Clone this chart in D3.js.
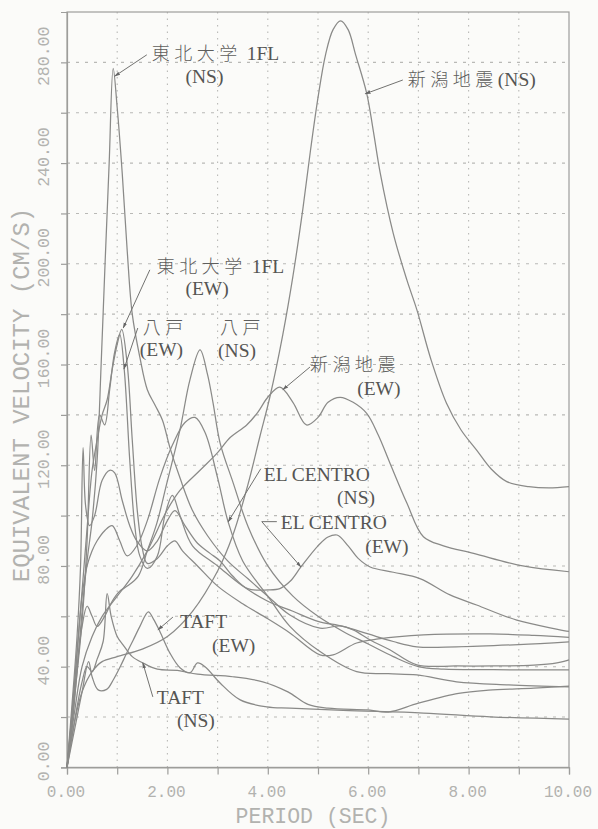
<!DOCTYPE html>
<html>
<head>
<meta charset="utf-8">
<script src="https://cdn.jsdelivr.net/npm/d3@7"></script>
<style>
  html, body { margin: 0; padding: 0; background: #fbfbf9; }
  svg { display: block; }
</style>
</head>
<body>
<svg id="chart" width="598" height="829"></svg>
<script>
// Equivalent velocity spectra, each point = [period (s), velocity (cm/s)]
const tohokuNS = [[0,0],[0.1,16],[0.2,38],[0.3,62],[0.4,82],[0.5,98],[0.6,122],[0.68,160],[0.76,201],[0.84,240],[0.92,277.6],[1.0,262],[1.1,236],[1.2,205],[1.3,180],[1.45,163],[1.6,150],[1.75,144],[1.9,138],[2.05,127],[2.25,115],[2.5,102],[2.8,92],[3.2,82],[3.6,75],[4.0,68],[4.44,60.5],[5.04,55.3],[5.44,56.2],[5.7,54.6],[6.04,50.6],[6.43,46.7],[6.97,40.7],[7.76,40.3],[8.5,40.3],[9.3,40.6],[9.76,41.5],[10,42.7]];
const tohokuEW = [[0,0],[0.1,20],[0.2,45],[0.3,70],[0.4,95],[0.5,118],[0.6,130],[0.7,140],[0.8,146],[0.9,158],[1.0,168],[1.09,174],[1.2,160],[1.3,130],[1.4,102],[1.5,87],[1.6,81],[1.8,83],[2.0,88],[2.15,90],[2.3,86],[2.6,80],[3.0,72],[3.5,65],[4.0,59],[4.44,53.4],[5.04,44.7],[5.3,44.7],[5.77,49.4],[6.2,51],[7.1,52.6],[8.43,53],[9.3,52.4],[10,51.6]];
const hachinoheEW = [[0,0],[0.15,28],[0.3,58],[0.4,90],[0.48,132],[0.55,118],[0.65,140],[0.75,136],[0.85,150],[0.95,165],[1.05,172],[1.14,158],[1.25,122],[1.35,96],[1.45,84],[1.6,79],[1.8,84],[1.95,100],[2.1,108],[2.25,100],[2.5,88],[3.0,80],[3.5,72],[4.0,66],[4.5,62],[5.0,58],[5.5,56],[6.0,53],[6.5,50],[6.97,47.9],[7.76,47.9],[9.0,48.8],[10,49.9]];
const hachinoheNS = [[0,0],[0.1,20],[0.2,40],[0.3,56],[0.4,64],[0.5,60],[0.6,56],[0.75,60],[0.9,66],[1.05,70],[1.2,72],[1.42,76],[1.6,86],[1.79,97],[1.99,113],[2.25,134],[2.45,154],[2.65,165.8],[2.8,156],[2.91,144.7],[3.05,128.8],[3.31,113],[3.61,95.5],[4.0,80],[4.5,68],[5.0,60],[5.5,54],[6.0,49],[6.5,44],[7.0,40],[7.5,39],[8.5,38.8],[10,38.7]];
const niigataNS = [[0,0],[0.15,18],[0.3,30],[0.5,38],[0.7,42],[1.0,44],[1.5,47],[2.0,52],[2.5,62],[3.0,78],[3.3,92],[3.6,112],[3.85,132],[4.04,147],[4.3,172],[4.5,195],[4.7,222],[4.85,245],[5.0,266],[5.15,283],[5.3,293],[5.45,296.5],[5.6,293],[5.75,283],[5.97,267.7],[6.1,253],[6.24,236],[6.5,212],[6.77,193.6],[6.97,181.7],[7.25,162],[7.56,144.6],[7.85,134],[8.16,126],[8.45,118.5],[8.76,113.5],[9.2,111.5],[9.6,111],[10,111.5]];
const niigataEW = [[0,0],[0.15,22],[0.3,40],[0.5,52],[0.7,60],[1.0,68],[1.3,76],[1.6,86],[1.99,102],[2.25,110],[2.65,118],[3.0,125],[3.25,131],[3.58,136],[3.8,141],[4.0,147],[4.24,151],[4.5,145],[4.77,136],[5.0,139],[5.2,145],[5.44,147],[5.7,145],[5.97,140.6],[6.2,132],[6.43,121],[6.77,105],[7.1,91.6],[7.5,88],[8.1,85],[9.08,80],[10,77.7]];
const elcentroNS = [[0,0],[0.1,22],[0.2,46],[0.3,68],[0.4,80],[0.5,86],[0.6,90],[0.75,94],[0.9,96],[1.05,90],[1.2,84],[1.39,88],[1.6,98],[1.85,115],[2.1,128],[2.35,137],[2.55,139],[2.75,133],[3.0,115],[3.21,97.5],[3.5,82],[4.0,68],[4.44,56],[5.04,46],[5.77,38],[6.4,37.2],[6.97,36.7],[7.76,34],[8.8,32.8],[10,32]];
const elcentroEW = [[0,0],[0.1,25],[0.2,52],[0.27,80],[0.32,127],[0.37,104],[0.45,96],[0.55,100],[0.7,114],[0.85,118],[0.95,117],[1.1,106],[1.25,96],[1.39,90],[1.6,86],[1.8,90],[2.0,98],[2.15,102],[2.35,96],[2.6,89],[2.85,85],[3.05,82],[3.3,76],[3.6,71],[4.0,70.5],[4.24,71],[4.45,74],[4.66,79.6],[5.0,88],[5.2,91.5],[5.38,92.3],[5.6,88],[5.8,83],[6.04,79.6],[6.5,77.5],[7.03,75],[7.63,68.5],[8.16,64.5],[8.96,58.5],[10,54]];
const taftEW = [[0,0],[0.1,10],[0.2,20],[0.3,30],[0.43,42],[0.5,36],[0.62,30.8],[0.79,31],[0.92,34.7],[1.06,40],[1.19,45.4],[1.32,50.6],[1.45,55.9],[1.62,61.8],[1.72,59],[1.85,54],[2.05,45.4],[2.25,39.6],[2.45,37.6],[2.6,41.5],[2.75,40],[3.05,33.5],[3.45,26.8],[3.98,24],[4.44,23.5],[5.5,22.6],[7.1,21.6],[8.43,20.1],[10,19.2]];
const taftNS = [[0,0],[0.1,12],[0.2,24],[0.3,34],[0.4,40],[0.5,38],[0.6,43],[0.72,50],[0.8,69],[0.88,60],[1.0,52],[1.12,48.6],[1.3,44],[1.51,41.5],[1.8,39],[2.2,38.5],[2.6,37],[3.3,36],[3.9,34],[4.4,30],[4.8,25],[5.2,23.5],[6.0,22.8],[6.4,22],[7.0,25.5],[7.8,29.4],[8.4,30.7],[9.3,31.5],[10,32.3]];

const periodTicks = [0, 2, 4, 6, 8, 10];
const velocityTicks = [0, 40, 80, 120, 160, 200, 240, 280];

const allSeries = [tohokuNS, tohokuEW, hachinoheEW, hachinoheNS, niigataNS, niigataEW, elcentroNS, elcentroEW, taftEW, taftNS];

// Curve labels: text lines (start x / baseline in data units) and leader lines
const labels = [
  { lines: [["東北大学 1FL", 1.69, 281], ["(NS)", 2.36, 272]], leader: [[1.59, 283], [0.95, 274.5]] },
  { lines: [["東北大学 1FL", 1.79, 196.5], ["(EW)", 2.36, 187.5]], leader: [[1.65, 197.6], [1.12, 174.5]] },
  { lines: [["八戸", 1.51, 172], ["(EW)", 1.45, 163.5]], leader: [[1.41, 174.5], [1.135, 158.2]] },
  { lines: [["八戸", 3.05, 172], ["(NS)", 3.01, 163]], leader: null },
  { lines: [["新潟地震(NS)", 6.79, 270.5]], leader: [[6.69, 273], [5.94, 267.5]] },
  { lines: [["新潟地震", 4.84, 157.5], ["(EW)", 5.78, 148]], leader: [[4.84, 159], [4.3, 150]] },
  { lines: [["EL CENTRO", 3.92, 113.7], ["(NS)", 5.38, 104.5]], leader: [[3.86, 118.6], [3.21, 97.5]] },
  { lines: [["EL CENTRO", 4.26, 94.5], ["(EW)", 5.94, 85]], leader: [[4.18, 97.6], [3.88, 97.6], [4.66, 79.6]] },
  { lines: [["TAFT", 2.25, 55.3], ["(EW)", 2.89, 45.8]], leader: [[2.11, 59.7], [1.81, 54.6]] },
  { lines: [["TAFT", 1.79, 25.2], ["(NS)", 2.19, 16]], leader: [[1.71, 28], [1.51, 41.5]] }
];

const svg = d3.select("#chart");
const x = d3.scaleLinear().domain([0, 10]).range([67, 569]);
const y = d3.scaleLinear().domain([0, 300]).range([767.4, 12]);

const gridColor = "#b9b9b6";
const frameColor = "#9d9d9b";
const tickTextColor = "#b2b2af";
const monoFont = "Liberation Mono, DejaVu Sans Mono, monospace";

// dotted grid
const grid = svg.append("g");
grid.selectAll("line.v").data(d3.range(1, 10)).join("line")
  .attr("x1", d => x(d)).attr("x2", d => x(d))
  .attr("y1", y(0)).attr("y2", y(300))
  .attr("stroke", gridColor).attr("stroke-width", 1.1)
  .attr("stroke-dasharray", "1.5,5");
grid.selectAll("line.h").data(d3.range(20, 300, 20)).join("line")
  .attr("x1", x(0)).attr("x2", x(10))
  .attr("y1", d => y(d)).attr("y2", d => y(d))
  .attr("stroke", gridColor).attr("stroke-width", 1.1)
  .attr("stroke-dasharray", "3,6");

// frame
svg.append("rect")
  .attr("x", x(0)).attr("y", y(300))
  .attr("width", x(10) - x(0)).attr("height", y(0) - y(300))
  .attr("fill", "none").attr("stroke", frameColor).attr("stroke-width", 1.2);

// axes with minor ticks every 1 s / 20 cm/s
const xAxis = d3.axisBottom(x).tickValues(d3.range(0, 11, 1)).tickSize(7).tickFormat("");
const yAxis = d3.axisLeft(y).tickValues(d3.range(0, 300, 20)).tickSize(6).tickFormat("");
const gx = svg.append("g").attr("transform", `translate(0,${y(0)})`).call(xAxis);
const gy = svg.append("g").attr("transform", `translate(${x(0)},0)`).call(yAxis);
[gx, gy].forEach(g => {
  g.select(".domain").attr("stroke", frameColor).attr("stroke-width", 1.2);
  g.selectAll(".tick line").attr("stroke", frameColor).attr("stroke-width", 1.2);
});

// tick labels
const fmt = d3.format(".2f");
svg.append("g").selectAll("text").data(periodTicks).join("text")
  .attr("x", d => x(d) - 1).attr("y", 797)
  .attr("text-anchor", "middle")
  .attr("font-family", monoFont)
  .attr("font-size", 16).attr("fill", tickTextColor)
  .text(d => fmt(d));
svg.append("g").selectAll("text").data(velocityTicks).join("text")
  .attr("transform", d => `translate(49,${y(d) - 6}) rotate(-90)`)
  .attr("text-anchor", "middle")
  .attr("font-family", monoFont)
  .attr("font-size", 16.5).attr("fill", tickTextColor)
  .text(d => fmt(d));

// axis titles
svg.append("text")
  .attr("x", 313).attr("y", 822.5)
  .attr("text-anchor", "middle")
  .attr("font-family", monoFont)
  .attr("font-size", 21.5).attr("fill", tickTextColor)
  .text("PERIOD (SEC)");
svg.append("text")
  .attr("transform", "translate(29,395) rotate(-90)")
  .attr("text-anchor", "middle")
  .attr("font-family", monoFont)
  .attr("font-size", 24).attr("fill", tickTextColor)
  .text("EQUIVALENT VELOCITY (CM/S)");

// spectra
const line = d3.line()
  .x(d => x(d[0])).y(d => y(d[1]))
  .curve(d3.curveCatmullRom.alpha(0.5));
svg.append("g").selectAll("path").data(allSeries).join("path")
  .attr("d", line)
  .attr("fill", "none")
  .attr("stroke", "#8a8a88")
  .attr("stroke-width", 1.25)
  .attr("stroke-linejoin", "round");

// arrowhead marker for leaders
svg.append("defs").append("marker")
  .attr("id", "tip").attr("viewBox", "0 0 10 10")
  .attr("refX", 9).attr("refY", 5)
  .attr("markerWidth", 6).attr("markerHeight", 6)
  .attr("orient", "auto-start-reverse")
  .append("path").attr("d", "M0,2 L10,5 L0,8 Z").attr("fill", "#666");

const ann = svg.append("g");
labels.forEach(l => {
  if (l.leader) {
    ann.append("path")
      .attr("d", d3.line().x(p => x(p[0])).y(p => y(p[1]))(l.leader))
      .attr("fill", "none").attr("stroke", "#727270").attr("stroke-width", 1)
      .attr("marker-end", "url(#tip)");
  }
  l.lines.forEach(([t, px, py]) => {
    const txt = ann.append("text")
      .attr("x", x(px)).attr("y", y(py))
      .attr("font-family", "Liberation Serif, serif")
      .attr("font-size", 19.5)
      .attr("fill", "#555553");
    // kanji runs are widely spaced; Latin runs use normal spacing
    t.split(/([\u3000-\u9fff]+)/).filter(s => s.length).forEach(part => {
      const cjk = /[\u3000-\u9fff]/.test(part);
      txt.append("tspan")
        .attr("font-family", cjk ? "'Noto Sans CJK JP', sans-serif" : "Liberation Serif, serif")
        .attr("font-size", cjk ? 18 : 19.5)
        .attr("font-weight", cjk ? 300 : 400)
        .attr("letter-spacing", cjk ? 4.5 : 0)
        .attr("fill", cjk ? "#5e5e5c" : "#555553")
        .text(part);
    });
  });
});
</script>
</body>
</html>
